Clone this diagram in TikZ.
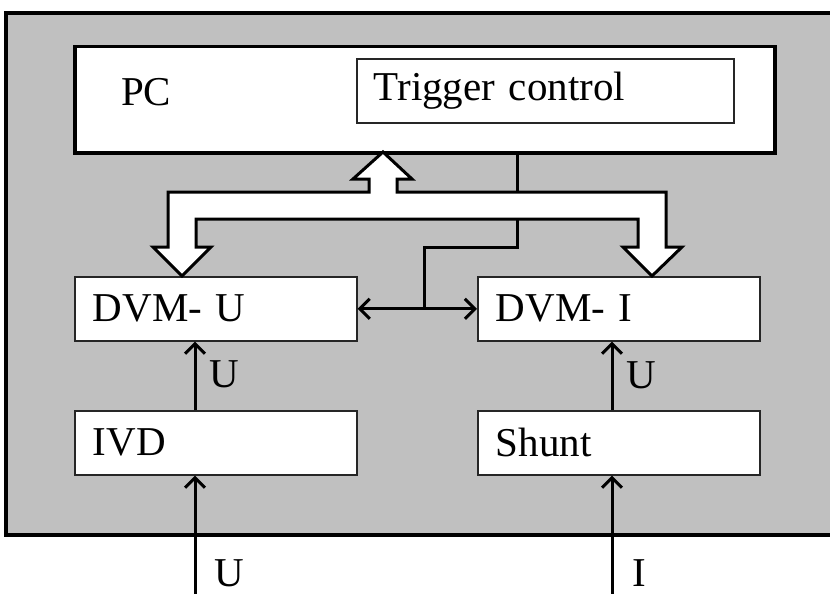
\documentclass[tikz,border=0pt]{standalone}
\usepackage{fontspec}
\setmainfont{Liberation Serif}
\usetikzlibrary{arrows.meta}
\definecolor{bg}{RGB}{192,192,192}
\begin{document}
\begin{tikzpicture}[x=1pt,y=-1pt,
  txt/.style={font=\fontsize{41}{43}\selectfont},
  box/.style={txt, draw=black!85, line width=1.6pt, fill=white, inner xsep=18pt, inner ysep=0pt,
    text width=246pt, minimum height=64pt, align=left, anchor=north west},
  sig/.style={line width=3pt, -{Straight Barb[length=10pt,width=20pt,line width=3pt]}},
  dsig/.style={line width=3pt, {Straight Barb[length=10pt,width=20pt,line width=3pt]}-{Straight Barb[length=10pt,width=20pt,line width=3pt]}},
  lbl/.style={txt, inner sep=0pt, anchor=base}]
\useasboundingbox (0,0) rectangle (830,594);
% frame
\fill[bg] (6,13) rectangle (840,535);
\draw[line width=3.5pt] (840,13) -- (6,13) -- (6,535) -- (840,535);
% PC
\node[draw, line width=3.5pt, fill=white, minimum width=700pt, minimum height=106pt, inner sep=0pt, anchor=north west] (pc) at (73,45) {};
\node[lbl, anchor=base west] (pclbl) at (121,105) {PC};
\node[box, text width=343pt, inner xsep=17pt, minimum height=64pt] (trig) at (356,58) {Trigger control};
% boxes
\node[box] (dvmu) at (74,276) {DVM- U};
\node[box] (dvmi) at (477,276) {DVM- I};
\node[box] (ivd) at (74,410) {IVD};
\node[box] (shunt) at (477,410) {Shunt};
% control line
\coordinate (busx) at (517,0);
\coordinate (bend) at (517,247);
\coordinate (tap) at (424,308);
\draw[line width=3pt] (pc.south -| busx) -- (bend) -| (tap);
\draw[dsig] (dvmu.east) -- (dvmi.west);
% hollow bus arrow
\draw[line width=3pt, fill=white, line join=miter]
  (383,152) -- (412,179) -- (397,179) -- (397,192) -- (666,192) -- (666,247) -- (682,247)
  -- (652,276) -- (623,247) -- (638,247) -- (638,219) -- (196,219) -- (196,247) -- (211,247)
  -- (182,276) -- (153,247) -- (168,247) -- (168,192) -- (369,192) -- (369,179) -- (353,179) -- cycle;
% signal arrows
\coordinate (ua) at (195,0);
\coordinate (ub) at (612,0);
\coordinate (inu) at (195,594);
\coordinate (ini) at (612,594);
\draw[sig] (ivd.north -| ua) -- (dvmu.south -| ua);
\draw[sig] (shunt.north -| ub) -- (dvmi.south -| ub);
\draw[sig] (inu) -- (ivd.south -| ua);
\draw[sig] (ini) -- (shunt.south -| ub);
\node[lbl] (lu1) at (224,387) {U};
\node[lbl] (lu2) at (641,388) {U};
\node[lbl] (lu3) at (229,586) {U};
\node[lbl] (li) at (639,586) {I};
\end{tikzpicture}
\end{document}
